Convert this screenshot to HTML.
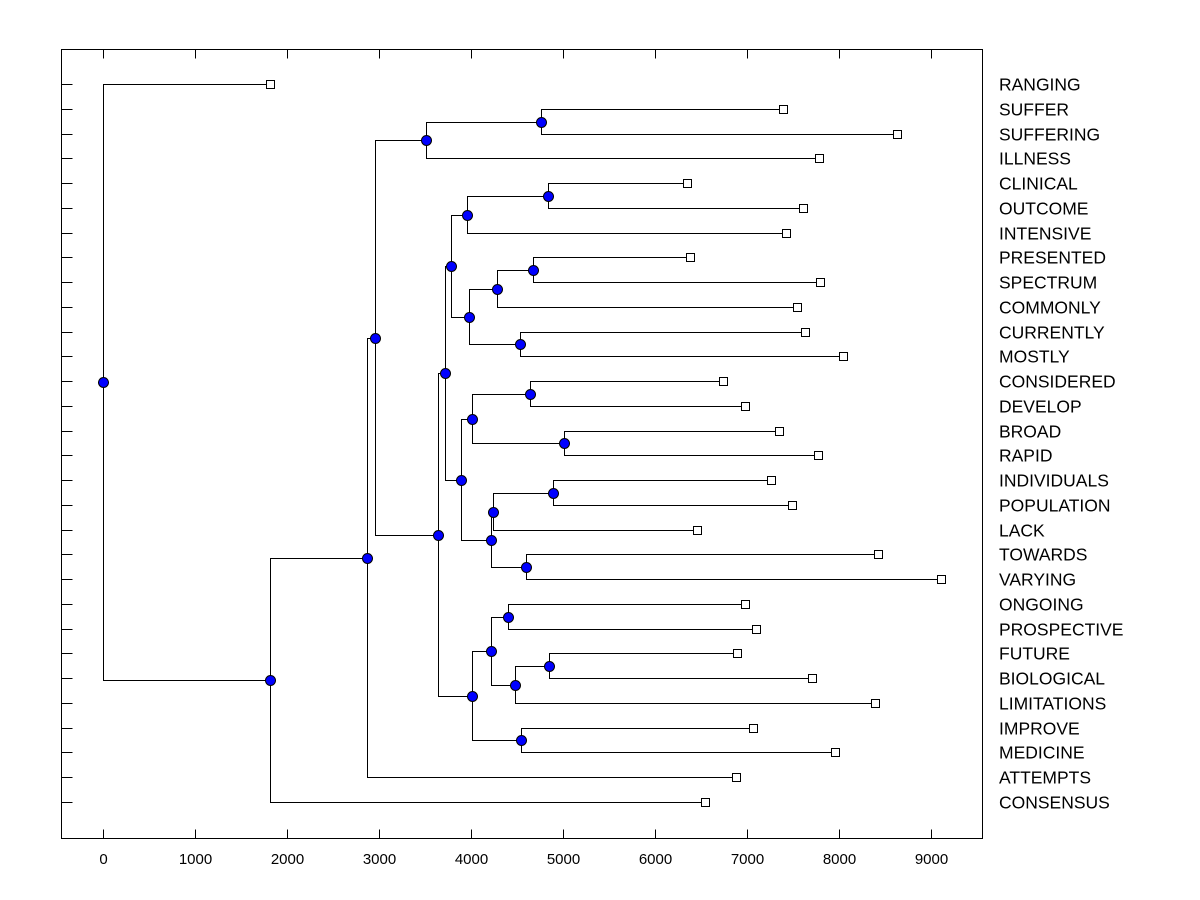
<!DOCTYPE html>
<html><head><meta charset="utf-8"><style>
body{margin:0;background:#fff;}
svg{display:block;font-family:"Liberation Sans",Arial,sans-serif;}
</style></head><body>
<svg id="chart" width="1200" height="900"></svg>
<script>
const leafLabels=["RANGING","SUFFER","SUFFERING","ILLNESS","CLINICAL","OUTCOME","INTENSIVE","PRESENTED","SPECTRUM","COMMONLY","CURRENTLY","MOSTLY","CONSIDERED","DEVELOP","BROAD","RAPID","INDIVIDUALS","POPULATION","LACK","TOWARDS","VARYING","ONGOING","PROSPECTIVE","FUTURE","BIOLOGICAL","LIMITATIONS","IMPROVE","MEDICINE","ATTEMPTS","CONSENSUS"];
const leafValues=[1815,7391,8630,7783,6348,7609,7424,6380,7793,7543,7630,8043,6739,6978,7348,7772,7261,7489,6457,8424,9109,6978,7098,6891,7707,8391,7065,7957,6880,6543];
const mergeLeft=[1,30,4,32,7,34,10,35,33,12,14,39,16,42,19,43,41,38,21,23,49,48,26,51,47,31,55,56,0];
const mergeRight=[2,3,5,6,8,9,11,36,37,13,15,40,17,18,20,44,45,46,22,24,25,50,27,52,53,54,28,29,57];
const mergeHeights=[4761,3511,4837,3957,4674,4283,4533,3978,3783,4641,5011,4011,4891,4239,4598,4217,3891,3717,4402,4848,4478,4217,4543,4011,3641,2957,2870,1815,0];
const xTicks=[0,1000,2000,3000,4000,5000,6000,7000,8000,9000];

const NS="http://www.w3.org/2000/svg";
const svg=document.getElementById('chart');
const L=61.5,R=982.5,T=49.5,B=838.5;
const xs=v=>Math.round(103+v*0.092)+0.5;
const ys=i=>Math.round(84+i*(802-84)/29)+0.5;
function el(tag,attrs,parent){const e=document.createElementNS(NS,tag);for(const k in attrs)e.setAttribute(k,attrs[k]);(parent||svg).appendChild(e);return e;}

const frame=el('rect',{x:L,y:T,width:R-L,height:B-T,fill:'none',stroke:'#000','stroke-width':1,'shape-rendering':'crispEdges'});



xTicks.forEach(v=>{
  const x=xs(v);
  el('line',{x1:x,y1:B,x2:x,y2:B-9,stroke:'#000','shape-rendering':'crispEdges'});
  el('line',{x1:x,y1:T,x2:x,y2:T+9,stroke:'#000','shape-rendering':'crispEdges'});
  const t=el('text',{x:x,y:864,'text-anchor':'middle','font-size':15});
  t.textContent=v;
  
  
});

const nodeX=[],nodeY=[];
leafLabels.forEach((lab,i)=>{nodeX[i]=xs(leafValues[i]);nodeY[i]=ys(i);});
mergeLeft.forEach((a,k)=>{
  const id=30+k;nodeX[id]=xs(mergeHeights[k]);nodeY[id]=Math.round((nodeY[a]+nodeY[mergeRight[k]])/2-0.5)+0.5;
});
const g=el('g',{});


mergeLeft.forEach((a,k)=>{
  const b=mergeRight[k],id=30+k,x=nodeX[id];
  el('path',{d:`M${nodeX[a]},${nodeY[a]}H${x}V${nodeY[b]}H${nodeX[b]}`,fill:'none',stroke:'#000','stroke-width':1,'shape-rendering':'crispEdges'},g);
});
leafLabels.forEach((lab,i)=>{
  const y=ys(i);
  el('line',{x1:L,y1:y,x2:L+11,y2:y,stroke:'#000','shape-rendering':'crispEdges'});
  const s=el('rect',{x:nodeX[i]-4,y:y-4,width:8,height:8,fill:'#fff',stroke:'#000','shape-rendering':'crispEdges'});
  
  
  const t=el('text',{x:999,y:y+6,'font-size':17.5});
  t.textContent=lab;
  
  
});
mergeLeft.forEach((a,k)=>{
  const id=30+k;
  const c=el('circle',{cx:nodeX[id],cy:nodeY[id],r:5,fill:'#0000ff',stroke:'#000','stroke-width':1});
  
  
});
</script>
</body></html>
